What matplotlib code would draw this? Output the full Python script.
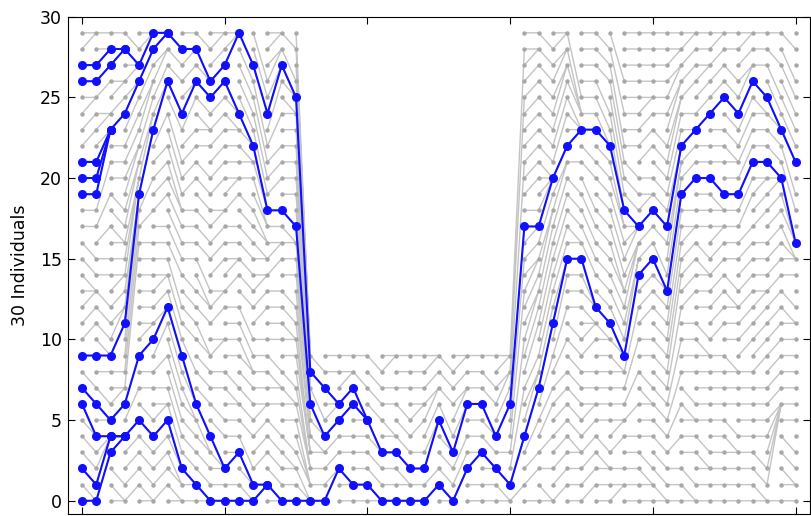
import matplotlib
matplotlib.use("Agg")
import numpy as np
import matplotlib.pyplot as plt

# population size in each generation (bottleneck in the middle)
gen_sizes = [30] * 16 + [10] * 15 + [30] * 20

# parent (row in generation t+1) of every individual in generation t
parents = [
    [0, 0, 1, 2, 3, 4, 4, 6, 7, 9, 11, 12, 13, 13, 13, 14, 15, 17, 18, 19, 20, 21, 23, 24, 25, 25, 26, 27, 29, 29],
    [3, 4, 4, 4, 4, 5, 5, 6, 8, 9, 9, 10, 11, 12, 14, 15, 17, 19, 21, 23, 23, 23, 23, 24, 24, 26, 27, 28, 28, 29],
    [0, 0, 1, 4, 4, 6, 7, 7, 8, 11, 12, 12, 13, 14, 14, 15, 16, 16, 17, 18, 20, 21, 22, 24, 25, 26, 26, 28, 28, 29],
    [1, 2, 3, 4, 5, 7, 9, 16, 17, 18, 19, 19, 19, 19, 20, 20, 20, 21, 21, 22, 22, 23, 24, 25, 26, 26, 27, 27, 27, 28],
    [0, 0, 1, 2, 3, 4, 5, 7, 8, 10, 11, 11, 12, 13, 14, 15, 16, 18, 20, 23, 24, 24, 25, 26, 26, 27, 28, 29, 29, 29],
    [1, 2, 3, 4, 5, 6, 6, 7, 9, 11, 12, 12, 13, 14, 14, 15, 16, 17, 19, 20, 21, 22, 24, 26, 26, 27, 28, 28, 29, 29],
    [0, 0, 1, 1, 2, 2, 3, 4, 5, 6, 7, 8, 9, 10, 11, 12, 14, 15, 16, 17, 18, 18, 19, 20, 21, 23, 24, 26, 27, 28],
    [0, 1, 1, 2, 3, 4, 5, 5, 6, 6, 8, 10, 11, 12, 13, 15, 16, 17, 18, 20, 21, 22, 23, 25, 26, 26, 27, 28, 28, 29],
    [0, 0, 1, 2, 3, 3, 4, 6, 7, 8, 9, 9, 11, 12, 12, 13, 15, 16, 17, 18, 19, 20, 22, 23, 23, 24, 25, 26, 26, 28],
    [0, 1, 2, 2, 2, 4, 5, 7, 8, 10, 10, 12, 13, 13, 15, 16, 17, 18, 18, 20, 21, 22, 23, 24, 25, 26, 27, 28, 29, 29],
    [0, 1, 3, 3, 4, 5, 6, 6, 7, 9, 10, 11, 12, 14, 15, 15, 16, 17, 19, 20, 20, 21, 22, 23, 23, 24, 24, 29, 29, 29],
    [0, 0, 1, 1, 2, 4, 5, 6, 7, 8, 8, 9, 10, 12, 13, 14, 15, 16, 17, 18, 20, 21, 21, 22, 22, 23, 24, 25, 26, 27],
    [1, 1, 3, 4, 5, 6, 6, 7, 8, 9, 10, 12, 13, 14, 14, 15, 15, 16, 16, 17, 17, 18, 18, 19, 20, 21, 22, 24, 25, 26],
    [0, 0, 1, 2, 3, 4, 6, 7, 7, 8, 10, 11, 12, 13, 15, 16, 16, 17, 18, 20, 21, 22, 24, 26, 27, 27, 28, 28, 29, 29],
    [0, 1, 2, 2, 3, 5, 6, 6, 7, 9, 10, 10, 11, 12, 14, 15, 16, 16, 17, 19, 20, 21, 22, 23, 24, 24, 25, 25, 26, 28],
    [0, 0, 0, 1, 1, 1, 2, 2, 2, 3, 3, 3, 4, 4, 5, 5, 5, 6, 6, 6, 7, 7, 7, 7, 7, 8, 8, 9, 9, 9],
    [0, 1, 2, 3, 3, 4, 4, 5, 7, 8],
    [2, 2, 3, 4, 5, 6, 6, 6, 8, 9],
    [0, 1, 1, 3, 4, 6, 7, 8, 8, 9],
    [0, 1, 2, 3, 4, 5, 5, 5, 7, 9],
    [0, 0, 1, 2, 3, 3, 5, 6, 7, 8],
    [0, 1, 2, 3, 4, 4, 6, 7, 9, 9],
    [0, 1, 1, 2, 3, 4, 5, 7, 8, 9],
    [0, 1, 2, 3, 5, 6, 6, 7, 8, 9],
    [1, 2, 5, 5, 6, 7, 7, 8, 9, 9],
    [0, 0, 1, 2, 3, 3, 4, 6, 7, 8],
    [2, 3, 4, 6, 6, 7, 7, 8, 9, 9],
    [0, 1, 3, 3, 4, 5, 6, 7, 8, 9],
    [0, 1, 2, 2, 3, 4, 4, 6, 7, 9],
    [0, 0, 1, 3, 6, 7, 8, 8, 9, 9],
    [1, 4, 7, 10, 13, 15, 17, 21, 25, 28],
    [0, 2, 3, 5, 7, 8, 8, 9, 11, 12, 13, 13, 14, 15, 15, 16, 17, 17, 18, 20, 21, 22, 23, 24, 25, 26, 27, 28, 28, 29],
    [0, 0, 2, 4, 6, 7, 9, 11, 12, 13, 14, 15, 16, 17, 18, 18, 19, 20, 20, 20, 20, 20, 21, 22, 23, 24, 25, 26, 27, 28],
    [1, 2, 3, 4, 5, 6, 7, 8, 10, 12, 14, 15, 15, 16, 17, 18, 19, 20, 21, 21, 22, 24, 25, 26, 27, 27, 28, 28, 29, 29],
    [0, 1, 2, 3, 3, 4, 5, 6, 7, 8, 9, 10, 12, 13, 14, 15, 16, 16, 17, 18, 19, 21, 23, 23, 23, 23, 24, 24, 24, 25],
    [1, 2, 3, 4, 5, 6, 6, 7, 8, 10, 11, 11, 11, 12, 12, 12, 14, 15, 16, 17, 18, 20, 21, 23, 24, 25, 26, 27, 28, 29],
    [0, 1, 2, 2, 3, 5, 6, 7, 8, 9, 10, 10, 11, 12, 13, 14, 15, 16, 17, 18, 19, 20, 21, 22, 22, 23, 24, 26, 27, 28],
    [1, 1, 2, 4, 5, 5, 6, 7, 8, 8, 9, 9, 10, 11, 12, 13, 13, 14, 15, 16, 17, 17, 18, 18, 19, 20, 21, 22, 24, 26],
    [0, 1, 2, 3, 4, 6, 8, 10, 12, 14, 15, 15, 16, 16, 16, 17, 17, 17, 17, 18, 19, 20, 22, 23, 24, 25, 26, 27, 28, 29],
    [0, 1, 1, 2, 4, 5, 6, 6, 7, 9, 10, 12, 13, 14, 15, 16, 17, 18, 19, 19, 20, 22, 23, 24, 25, 25, 26, 27, 28, 29],
    [0, 0, 1, 2, 3, 4, 5, 6, 7, 8, 9, 10, 11, 12, 13, 13, 14, 16, 17, 18, 19, 20, 21, 22, 24, 25, 26, 27, 28, 29],
    [0, 1, 2, 4, 6, 8, 10, 12, 14, 15, 16, 17, 18, 19, 20, 21, 21, 22, 22, 23, 24, 25, 25, 26, 26, 27, 27, 28, 28, 29],
    [0, 0, 1, 3, 4, 5, 5, 6, 8, 9, 10, 11, 13, 14, 15, 16, 17, 17, 18, 20, 21, 22, 23, 23, 24, 26, 27, 28, 29, 29],
    [0, 1, 2, 2, 3, 5, 6, 7, 8, 9, 9, 10, 12, 13, 14, 14, 15, 17, 18, 19, 20, 21, 22, 24, 25, 26, 27, 27, 28, 29],
    [0, 1, 2, 3, 4, 5, 6, 7, 8, 9, 11, 12, 13, 14, 15, 16, 17, 17, 18, 18, 19, 21, 22, 23, 25, 26, 27, 28, 29, 29],
    [0, 1, 2, 3, 3, 4, 6, 7, 8, 8, 10, 11, 12, 12, 13, 15, 16, 17, 18, 19, 20, 21, 21, 22, 23, 24, 25, 26, 28, 29],
    [0, 1, 2, 3, 4, 5, 6, 7, 8, 10, 11, 12, 13, 14, 15, 16, 17, 19, 20, 21, 22, 23, 24, 25, 26, 27, 27, 28, 29, 29],
    [0, 0, 1, 2, 4, 5, 6, 7, 9, 10, 11, 12, 13, 13, 14, 15, 16, 18, 19, 20, 20, 21, 22, 23, 24, 24, 25, 27, 28, 29],
    [0, 6, 6, 6, 6, 6, 7, 8, 9, 10, 11, 12, 13, 14, 15, 16, 17, 18, 19, 20, 20, 20, 21, 22, 23, 23, 24, 25, 27, 29],
    [0, 1, 1, 2, 3, 5, 6, 7, 8, 9, 10, 11, 11, 12, 14, 15, 15, 15, 16, 16, 16, 18, 19, 21, 22, 23, 24, 25, 26, 28],
]

# highlighted lineages: (first generation, row in each generation)
blue_paths = [
    (0, [27, 27, 28, 28, 27, 29, 29, 28, 28, 26, 27, 29, 27, 24, 27, 25,
         8, 7, 6, 7, 5, 3, 3, 2, 2, 5, 3, 6, 6, 4, 6,
         17, 17, 20, 22, 23, 23, 22, 18, 17, 18, 17,
         22, 23, 24, 25, 24, 26, 25, 23, 21]),
    (0, [26, 26, 27, 28]),
    (0, [21, 21, 23, 24, 26, 28, 29]),
    (0, [20, 20, 23]),
    (0, [19, 19, 23]),
    (0, [9, 9, 9, 11, 19, 23, 26, 24, 26, 25, 26, 24, 22, 18, 18, 17,
         6, 4, 5, 6, 5]),
    (0, [7, 6, 5, 6, 9, 10, 12, 9, 6, 4, 2, 3, 1, 1,
         0, 0, 0, 0, 2, 1, 1, 0, 0, 0, 0, 1, 0, 2, 3, 2, 1,
         4, 7, 11, 15, 15, 12, 11, 9, 14, 15, 13,
         19, 20, 20, 19, 19, 21, 21, 20, 16]),
    (0, [6, 4, 4, 4, 5, 4, 5, 2, 1, 0, 0, 0, 0, 1]),
    (0, [2, 1, 4, 4]),
    (0, [0, 0, 3, 4]),
]

fig = plt.figure(figsize=(8.12, 5.16), dpi=100)
ax = fig.add_axes([67.7 / 812, 2.0 / 516, 742.1 / 812, 497.3 / 516])

# gray genealogy: each individual linked to its parent in the next generation
for t, par in enumerate(parents):
    xs, ys = [], []
    for child, p in enumerate(par):
        xs += [t, t + 1, np.nan]
        ys += [child, p, np.nan]
    ax.plot(xs, ys, '-', color='#c4c4c4', lw=1.0, zorder=1)

for t, n in enumerate(gen_sizes):
    ax.plot([t] * n, range(n), 'o', color='#a8a8a8', ms=3.2, mec='none', zorder=2)

# blue lineages
for t0, rows in blue_paths:
    ax.plot(range(t0, t0 + len(rows)), rows, '-o', color='#1010ff', lw=1.5,
            ms=5.5, mec='#1010ff', zorder=4)

ax.set_xlim(-1, 51)
ax.set_ylim(-0.82, 30)
ax.set_xticks(range(0, 51, 10))
ax.set_yticks(range(0, 31, 5))
ax.tick_params(direction='in', length=5, top=True, right=True, labelbottom=False,
               labelsize=12.5, pad=4)
ax.set_ylabel('30 Individuals', fontsize=12.5, labelpad=8)

fig.savefig('out.png', dpi=100)
